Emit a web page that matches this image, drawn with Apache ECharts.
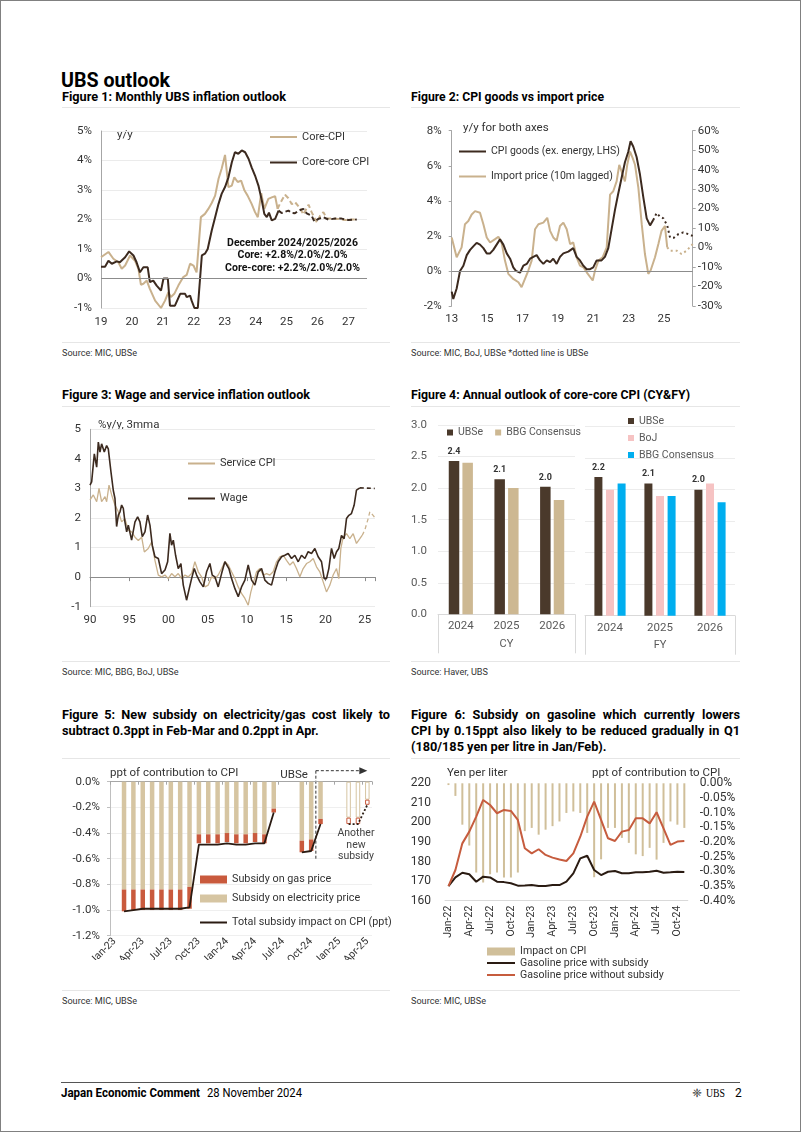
<!DOCTYPE html>
<html><head><meta charset="utf-8">
<script src="https://cdn.jsdelivr.net/npm/echarts@6/dist/echarts.min.js"></script>
<style>
html,body{margin:0;padding:0;background:#fff;}
body{width:802px;height:1134px;position:relative;overflow:hidden;font-family:Roboto,"Liberation Sans",sans-serif;color:#000;}
.frame{position:absolute;left:0;top:0;width:799px;height:1130px;border:1px solid #808080;}
.t{position:absolute;white-space:nowrap;transform-origin:0 50%;line-height:1;}
.rule{position:absolute;height:1px;background:#e6e6e6;}
.chart{position:absolute;}
</style></head><body>
<div class="frame"></div>
<script>
// ======================= DATA =======================
// Figure 1: monthly inflation outlook, [year, % y/y]
const coreCpiActual = [[2019.00,0.72],[2019.24,0.90],[2019.40,0.67],[2019.56,0.55],[2019.67,0.33],[2019.78,0.44],[2019.94,0.78],[2020.10,0.60],[2020.21,0.33],[2020.29,-0.21],[2020.37,-0.18],[2020.48,-0.07],[2020.58,-0.35],[2020.75,-0.75],[2020.94,-1.00],[2021.07,-0.75],[2021.18,-0.46],[2021.26,-0.63],[2021.37,-0.52],[2021.50,-0.24],[2021.66,0.05],[2021.77,0.12],[2021.88,0.50],[2021.99,0.44],[2022.09,0.21],[2022.23,2.08],[2022.36,2.19],[2022.47,2.36],[2022.58,2.56],[2022.69,2.81],[2022.80,3.38],[2022.90,3.72],[2023.01,4.19],[2023.12,3.10],[2023.23,3.15],[2023.31,3.43],[2023.42,3.27],[2023.53,3.32],[2023.64,2.98],[2023.74,2.81],[2023.87,2.53],[2023.98,2.25],[2024.07,2.08],[2024.18,2.89],[2024.28,2.36],[2024.41,2.70],[2024.54,2.76],[2024.63,2.79],[2024.71,2.36]];
const coreCpiForecast = [[2024.71,2.36],[2024.79,2.55],[2024.95,2.84],[2025.06,2.72],[2025.17,2.52],[2025.27,2.59],[2025.44,2.38],[2025.54,2.17],[2025.71,2.50],[2025.81,2.25],[2025.98,1.90],[2026.08,2.12],[2026.19,2.25],[2026.30,2.03],[2026.46,2.03],[2026.68,2.02],[2026.89,1.98],[2027.11,2.00],[2027.27,2.00]];
const coreCoreActual = [[2019.00,0.40],[2019.13,0.40],[2019.24,0.60],[2019.35,0.50],[2019.51,0.58],[2019.61,0.55],[2019.78,0.72],[2019.91,0.92],[2020.05,0.78],[2020.15,0.55],[2020.26,0.21],[2020.37,0.38],[2020.51,0.38],[2020.58,-0.12],[2020.69,-0.07],[2020.80,-0.24],[2020.94,-0.41],[2021.02,0.00],[2021.16,0.00],[2021.23,-0.92],[2021.39,-0.92],[2021.56,-0.52],[2021.72,-0.52],[2021.77,-0.63],[2021.88,-0.58],[2021.93,-0.75],[2022.02,-1.00],[2022.13,-1.00],[2022.26,0.78],[2022.36,0.84],[2022.45,1.00],[2022.58,1.63],[2022.69,2.08],[2022.80,2.53],[2022.90,2.87],[2023.01,3.10],[2023.12,3.43],[2023.23,3.94],[2023.33,4.28],[2023.44,4.23],[2023.55,4.34],[2023.66,4.28],[2023.77,4.06],[2023.87,3.77],[2023.98,3.49],[2024.09,3.15],[2024.20,2.64],[2024.28,2.19],[2024.36,2.08],[2024.43,2.23],[2024.52,1.97],[2024.63,2.02],[2024.74,2.30]];
const coreCoreForecast = [[2024.74,2.30],[2024.84,2.22],[2024.95,2.26],[2025.06,2.30],[2025.17,2.22],[2025.27,2.21],[2025.38,2.30],[2025.54,2.36],[2025.65,2.21],[2025.81,2.13],[2025.90,1.93],[2026.03,2.02],[2026.19,2.08],[2026.35,2.00],[2026.57,2.03],[2026.78,2.03],[2027.00,1.98],[2027.27,2.00]];

// Figure 2: CPI goods (LHS, %) vs import price (RHS, %, 10m lagged), [year, value]
const cpiGoodsActual = [[2013.00,-1.18],[2013.09,-1.60],[2013.28,-1.00],[2013.47,0.00],[2013.66,0.30],[2013.85,0.90],[2014.04,1.20],[2014.22,1.40],[2014.41,1.60],[2014.60,1.50],[2014.79,1.30],[2014.98,1.00],[2015.17,1.00],[2015.35,1.20],[2015.54,1.50],[2015.73,1.80],[2015.82,1.85],[2015.92,1.50],[2016.11,1.00],[2016.30,0.70],[2016.48,0.20],[2016.63,0.00],[2016.86,-0.10],[2017.05,0.30],[2017.24,0.40],[2017.43,0.70],[2017.80,0.90],[2017.99,0.60],[2018.18,0.40],[2018.37,0.60],[2018.56,0.50],[2018.74,0.70],[2018.93,0.40],[2019.12,0.80],[2019.31,1.00],[2019.59,1.10],[2019.87,1.30],[2020.06,0.80],[2020.25,0.60],[2020.44,0.30],[2020.63,0.10],[2020.82,0.10],[2021.00,0.20],[2021.19,0.60],[2021.47,0.60],[2021.66,0.80],[2021.85,1.30],[2022.04,2.40],[2022.23,3.50],[2022.41,4.40],[2022.60,5.30],[2022.79,6.20],[2022.98,6.80],[2023.11,7.40],[2023.26,7.10],[2023.45,6.50],[2023.64,5.50],[2023.83,4.20],[2024.02,3.00],[2024.21,2.60],[2024.39,2.90]];
const cpiGoodsForecast = [[2024.39,2.90],[2024.58,3.30],[2024.77,3.10],[2024.96,3.00],[2025.18,2.60],[2025.34,1.90],[2025.56,1.90],[2025.81,2.10],[2026.09,2.20],[2026.37,2.10],[2026.62,2.00]];
const importPriceActual = [[2013.00,5.2],[2013.28,-5.0],[2013.56,0.1],[2013.75,12.0],[2013.94,13.6],[2014.13,17.0],[2014.32,18.7],[2014.60,17.9],[2014.79,12.0],[2014.98,5.2],[2015.17,2.6],[2015.45,4.3],[2015.64,5.5],[2015.82,2.6],[2016.01,-6.7],[2016.20,-13.5],[2016.48,-16.1],[2016.77,-17.8],[2016.95,-20.3],[2017.14,-16.1],[2017.33,-11.8],[2017.52,-6.7],[2017.71,9.4],[2017.90,12.0],[2018.18,12.8],[2018.40,15.3],[2018.56,8.6],[2018.74,5.2],[2018.93,3.5],[2019.12,11.1],[2019.31,12.8],[2019.50,9.4],[2019.69,1.8],[2019.87,2.6],[2020.06,-5.0],[2020.25,-9.3],[2020.44,-10.1],[2020.63,-12.7],[2020.97,-16.9],[2021.10,-11.8],[2021.29,-6.7],[2021.53,-5.0],[2021.76,0.1],[2021.95,27.2],[2022.13,28.9],[2022.32,34.0],[2022.47,42.5],[2022.60,39.1],[2022.79,34.0],[2022.92,42.5],[2023.08,49.3],[2023.23,45.9],[2023.36,42.5],[2023.55,30.6],[2023.74,12.0],[2023.92,-3.3],[2024.11,-13.5],[2024.24,-11.8],[2024.49,-5.0],[2024.68,1.8],[2024.86,8.6],[2025.05,11.1],[2025.18,0.1]];
const importPriceForecast = [[2025.18,0.1],[2025.34,-1.6],[2025.71,-1.6],[2025.99,-3.3],[2026.28,-1.6],[2026.62,1.8]];

// Figure 3: wage and service CPI, %y/y 3mma, [year, value]
const wageActual = [[1990.00,3.11],[1990.21,3.22],[1990.55,4.17],[1990.85,3.72],[1991.06,4.57],[1991.27,4.23],[1991.48,4.51],[1991.82,4.23],[1992.12,4.45],[1992.33,4.34],[1992.67,3.56],[1992.97,2.93],[1993.18,2.66],[1993.39,1.71],[1993.61,2.10],[1993.82,2.21],[1994.03,2.44],[1994.24,2.33],[1994.45,1.87],[1994.67,1.53],[1994.88,1.76],[1995.30,1.25],[1995.73,1.87],[1996.07,2.04],[1996.36,1.87],[1996.66,1.37],[1997.00,1.53],[1997.34,2.10],[1997.64,1.75],[1997.93,1.08],[1998.27,0.69],[1998.70,0.63],[1999.12,0.12],[1999.55,0.24],[1999.89,0.52],[2000.18,1.48],[2000.39,1.08],[2000.61,1.25],[2000.90,0.74],[2001.24,0.29],[2001.58,0.46],[2001.88,-0.27],[2002.30,-0.78],[2002.64,-0.39],[2002.94,-0.05],[2003.28,0.29],[2003.58,0.07],[2004.00,-0.16],[2004.43,-0.33],[2004.85,0.18],[2005.27,0.46],[2005.57,0.07],[2005.91,0.01],[2006.33,-0.33],[2006.76,0.12],[2007.18,0.52],[2007.69,0.29],[2008.03,-0.05],[2008.46,-0.39],[2008.88,-0.66],[2009.30,-0.33],[2009.73,-0.10],[2010.15,0.41],[2010.58,-0.10],[2011.00,-0.27],[2011.43,0.18],[2011.85,0.29],[2012.27,-0.10],[2012.70,-0.21],[2013.12,-0.27],[2013.55,0.18],[2013.97,0.52],[2014.40,0.69],[2014.82,0.74],[2015.24,0.80],[2015.67,0.63],[2016.09,0.74],[2016.52,0.52],[2016.94,0.74],[2017.37,0.63],[2017.79,0.86],[2018.21,0.80],[2018.64,0.97],[2019.06,0.69],[2019.49,0.52],[2019.83,-0.05],[2020.12,-0.05],[2020.42,0.29],[2020.76,0.97],[2021.10,0.63],[2021.40,0.86],[2021.69,0.97],[2022.03,1.41],[2022.37,1.30],[2022.67,1.98],[2022.97,2.09],[2023.30,2.15],[2023.64,2.43],[2023.94,2.94],[2024.37,3.02]];
const wageForecast = [[2024.37,3.02],[2026.27,3.00]];
const serviceActual = [[1990.00,2.61],[1990.42,2.78],[1990.85,2.55],[1991.15,3.00],[1991.48,2.55],[1991.91,2.72],[1992.12,2.55],[1992.42,3.11],[1992.76,2.78],[1993.18,2.44],[1993.61,2.21],[1994.03,1.87],[1994.45,1.98],[1994.88,1.59],[1995.30,1.53],[1995.73,1.35],[1996.15,1.24],[1996.58,1.35],[1996.92,0.85],[1997.42,0.97],[1997.85,1.19],[1998.27,0.57],[1998.70,0.07],[1999.12,0.01],[1999.55,0.07],[1999.97,-0.05],[2000.39,0.12],[2000.82,0.01],[2001.24,0.12],[2001.67,-0.05],[2002.09,0.07],[2002.52,0.01],[2002.94,0.12],[2003.36,0.52],[2003.79,0.18],[2004.21,0.01],[2004.64,-0.33],[2005.06,-0.27],[2005.49,0.01],[2005.91,-0.05],[2006.33,0.07],[2006.76,0.29],[2007.18,0.52],[2007.61,0.41],[2008.03,0.18],[2008.46,-0.05],[2008.88,-0.33],[2009.30,-0.55],[2009.73,-0.72],[2010.15,-0.95],[2010.49,-0.50],[2010.79,-0.21],[2011.21,0.18],[2011.64,0.29],[2012.06,0.07],[2012.49,0.12],[2012.91,0.07],[2013.33,0.18],[2013.76,0.52],[2014.18,0.69],[2014.61,0.74],[2015.03,0.57],[2015.46,0.41],[2015.88,0.52],[2016.30,0.29],[2016.73,0.01],[2017.15,0.29],[2017.58,0.46],[2018.00,0.52],[2018.43,0.63],[2018.85,0.35],[2019.27,0.18],[2019.70,-0.16],[2020.12,-0.50],[2020.55,-0.27],[2020.97,0.07],[2021.40,0.29],[2021.69,-0.05],[2021.95,0.97],[2022.25,1.36],[2022.67,1.47],[2023.09,1.30],[2023.52,1.47],[2023.94,1.14],[2024.37,1.30],[2024.66,1.41]];
const serviceForecast = [[2024.66,1.41],[2025.00,1.59],[2025.43,1.98],[2025.64,2.21],[2026.06,2.09],[2026.36,1.98]];

// Figure 4: annual outlook of core-core CPI
const annualYears = ['2024','2025','2026'];
const cyUBSe = [2.43,2.14,2.02];
const cyBBG = [2.40,2.00,1.81];
const fyUBSe = [2.20,2.10,2.00];
const fyBoJ = [2.00,1.90,2.10];
const fyBBG = [2.10,1.90,1.80];

// Figure 5: electricity/gas subsidy, ppt contribution to CPI
const subsidyMonths = ['Jan-23','Feb-23','Mar-23','Apr-23','May-23','Jun-23','Jul-23','Aug-23','Sep-23','Oct-23','Nov-23','Dec-23','Jan-24','Feb-24','Mar-24','Apr-24','May-24','Jun-24','Jul-24','Aug-24','Sep-24','Oct-24','Nov-24','Dec-24','Jan-25','Feb-25','Mar-25','Apr-25'];
const electricitySubsidy = [null,-0.84,-0.84,-0.84,-0.84,-0.84,-0.84,-0.84,-0.82,-0.41,-0.41,-0.41,-0.40,-0.41,-0.41,-0.40,-0.41,-0.21,null,null,-0.46,-0.45,-0.29,null,null,-0.28,-0.28,-0.14];
const gasSubsidy = [null,-0.17,-0.16,-0.16,-0.16,-0.16,-0.16,-0.16,-0.17,-0.07,-0.07,-0.07,-0.07,-0.07,-0.07,-0.07,-0.07,-0.03,null,null,-0.09,-0.09,-0.04,null,null,-0.05,-0.05,-0.04];
const totalImpact = [null,-1.01,-1.00,-0.99,-0.99,-0.99,-0.99,-0.99,-0.98,-0.49,-0.49,-0.49,-0.48,-0.49,-0.49,-0.48,-0.48,-0.24,null,null,-0.55,-0.54,-0.33,null,null,null,null,null];
const totalImpactForecast = [null,null,null,null,null,null,null,null,null,null,null,null,null,null,null,null,null,null,null,null,null,null,null,null,null,-0.33,-0.33,-0.18];
const newSubsidyMonths = ['Feb-25','Mar-25','Apr-25'];

// Figure 6: gasoline subsidy
const gasolineMonths = ['Jan-22','Feb-22','Mar-22','Apr-22','May-22','Jun-22','Jul-22','Aug-22','Sep-22','Oct-22','Nov-22','Dec-22','Jan-23','Feb-23','Mar-23','Apr-23','May-23','Jun-23','Jul-23','Aug-23','Sep-23','Oct-23','Nov-23','Dec-23','Jan-24','Feb-24','Mar-24','Apr-24','May-24','Jun-24','Jul-24','Aug-24','Sep-24','Oct-24','Nov-24'];
const cpiImpact = [-0.006,-0.043,-0.141,-0.212,-0.304,-0.338,-0.310,-0.304,-0.321,-0.321,-0.304,-0.163,-0.152,-0.175,-0.158,-0.146,-0.130,-0.101,-0.096,-0.101,-0.169,-0.320,-0.259,-0.152,-0.152,-0.186,-0.203,-0.242,-0.248,-0.220,-0.260,-0.203,-0.130,-0.141,-0.152];
const priceWithSubsidy = [167.5,171.9,174.3,173.5,169.7,172.3,171.9,169.7,169.5,168.9,167.7,167.8,168.0,167.5,167.5,168.0,168.0,169.7,174.0,181.6,183.0,175.7,173.1,174.8,175.2,174.0,174.0,174.5,174.5,174.8,175.3,174.3,174.5,174.8,174.7];
const priceWithoutSubsidy = [167.5,175.7,189.3,195.3,203.0,211.5,208.9,204.7,206.4,205.9,201.3,186.8,184.2,186.3,183.4,182.0,181.1,180.3,184.2,192.7,203.0,210.6,201.3,191.9,190.5,195.3,196.1,202.1,202.1,199.5,205.2,197.0,188.5,190.2,190.5];

// ======================= STYLE / LAYOUT =======================
const FONT = 'Roboto, "Liberation Sans", sans-serif';
const C = {tan:'#C9B18D', dark:'#3C2A1F', grid:'#ebebeb', axis:'#a6a6a6', label:'#333333',
  ubs:'#4A392B', bbgTan:'#CDB892', boj:'#F6C3C3', bbgBlue:'#00AEEF',
  elec:'#D6C5A2', gas:'#C95A3D', total:'#2A1B12', red:'#C65C3E', impact:'#D0BF9A'};

function txt(s, x, cy, size, weight, w, family, color){
  const e = document.createElement('div'); e.className = 't'; e.textContent = s;
  e.style.left = x + 'px'; e.style.top = (cy - size/2) + 'px';
  e.style.fontSize = size + 'px'; e.style.fontWeight = weight || 400;
  if (family) e.style.fontFamily = family;
  if (color) e.style.color = color;
  document.body.appendChild(e);
  if (w) { const nat = e.getBoundingClientRect().width; e.style.transform = 'scaleX(' + (w/nat) + ')'; }
  return e;
}
function block(lines, x, cy0, lh, size, w, sMax){
  const probe = txt(lines[0], x, cy0, size, 700);
  const nat = probe.getBoundingClientRect().width; probe.remove();
  const s = Math.min(sMax, w/nat);
  lines.forEach((ln, i) => {
    const e = txt(ln, x, cy0 + i*lh, size, 700);
    if (i < lines.length - 1) { e.style.width = (w/s) + 'px'; e.style.textAlign = 'justify'; e.style.textAlignLast = 'justify'; e.style.whiteSpace = 'nowrap'; }
    e.style.transform = 'scaleX(' + s + ')';
  });
}
function rule(x, y, w, color, h){ const e = document.createElement('div'); e.className='rule'; e.style.left=x+'px'; e.style.top=y+'px'; e.style.width=w+'px'; if(color) e.style.background=color; if(h) e.style.height=h+'px'; document.body.appendChild(e); }
function mk(left, top, w, h){ const d = document.createElement('div'); d.className='chart'; d.style.left=left+'px'; d.style.top=top+'px'; d.style.width=w+'px'; d.style.height=h+'px'; document.body.appendChild(d); return echarts.init(d, null, {renderer:'canvas'}); }

// ---- page text ----
txt('UBS outlook', 61, 79.5, 20, 700, 109);
const h1 = txt('Figure 1: Monthly UBS inflation outlook', 62, 97, 12.5, 700, 224);
const sH = parseFloat(h1.style.transform.slice(7));
txt('Figure 2: CPI goods vs import price', 411, 97, 12.5, 700, 193);
txt('Figure 3: Wage and service inflation outlook', 62, 395, 12.5, 700, 248);
txt('Figure 4: Annual outlook of core-core CPI (CY&FY)', 411, 395, 12.5, 700, 279);
block(['Figure 5: New subsidy on electricity/gas cost likely to','subtract 0.3ppt in Feb-Mar and 0.2ppt in Apr.'], 62, 715, 16, 12.5, 328, sH);
block(['Figure 6: Subsidy on gasoline which currently lowers','CPI by 0.15ppt also likely to be reduced gradually in Q1','(180/185 yen per litre in Jan/Feb).'], 411, 715, 16, 12.5, 329, sH);
[107, 406, 758, 342, 661, 990].forEach(y => { rule(62, y, 328); rule(411, y, 329); });
const s1 = txt('Source: MIC, UBSe', 62, 353, 9, 400, 75, null, '#333');
const sS = parseFloat(s1.style.transform.slice(7));
function src(s, x, y){ const e = txt(s, x, y, 9, 400, null, null, '#333'); e.style.transform = 'scaleX(' + sS + ')'; }
src('Source: MIC, BoJ, UBSe *dotted line is UBSe', 411, 353);
src('Source: MIC, BBG, BoJ, UBSe', 62, 672);
src('Source: Haver, UBS', 411, 672);
src('Source: MIC, UBSe', 62, 1001);
src('Source: MIC, UBSe', 411, 1001);
rule(61, 1082, 679, '#555', 1);
txt('Japan Economic Comment', 61, 1093, 12.5, 700, 139);
txt('28 November 2024', 207, 1093, 12.5, 400, 95);
txt('\u2748', 692, 1093, 12, 400, null, '"DejaVu Sans"', '#333');
txt('UBS', 706, 1093, 12, 400, 19, '"Liberation Serif", "DejaVu Serif", serif');
txt('2', 735, 1093, 12, 400);

// ---- common helpers ----
const lbl = (extra) => Object.assign({color:C.label, fontSize:11.5, fontFamily:FONT}, extra || {});
const noEmph = {emphasis:{disabled:true}, silent:true, animation:false};
const line = (name, data, color, type, width, extra) => Object.assign({name, type:'line', data, showSymbol:false, symbol:'none', lineStyle:{color, width:width||2, type:type||'solid'}, itemStyle:{color}}, noEmph, extra||{});
const zeroMark = {silent:true, symbol:'none', label:{show:false}, lineStyle:{color:'#8c8c8c', width:1, type:'solid'}, data:[{yAxis:0}], animation:false};
const lg = (names, left, top, extra) => Object.assign({data:names, left, top, padding:0, icon:'rect', itemWidth:27, itemHeight:2, selectedMode:false, textStyle:{fontSize:11, color:'#333', fontFamily:FONT}}, extra || {});
const gtext = (text, x, y, o) => ({type:'text', x, y, silent:true, style:Object.assign({text, fill:'#333', font:'11.5px ' + FONT, align:'left', textAlign:'left', verticalAlign:'middle', textVerticalAlign:'middle'}, o||{})});

// ======================= FIGURE 1 =======================
const c1 = mk(55, 112, 340, 225);
c1.setOption({
  animation:false, textStyle:{fontFamily:FONT},
  grid:{left:46, right:28, top:19, bottom:29, containLabel:false, outerBoundsMode:'none'},
  xAxis:{type:'value', min:2019, max:2027.6, interval:1, axisLine:{show:false, onZero:false}, axisTick:{show:false}, splitLine:{show:false},
    axisLabel:lbl({margin:8, formatter:v => Number.isInteger(v) ? String(v).slice(2) : ''})},
  yAxis:{type:'value', min:-1, max:5, interval:1, axisLine:{show:true, lineStyle:{color:C.axis}}, axisTick:{show:false},
    splitLine:{lineStyle:{color:C.grid}}, axisLabel:lbl({margin:9, formatter:'{value}%'})},
  legend:[lg(['Core-CPI'], 215, 19.5), lg(['Core-core CPI'], 215, 45)],
  graphic:[gtext('y/y', 62, 23),
    gtext('December 2024/2025/2026\nCore: +2.8%/2.0%/2.0%\nCore-core: +2.2%/2.0%/2.0%', 237.5, 125,
      {align:'center', textAlign:'center', verticalAlign:'top', textVerticalAlign:'top', font:'bold 10.5px ' + FONT, lineHeight:12.5, fill:'#111'})],
  series:[
    line('Core-CPI', coreCpiActual, C.tan, 'solid', 2, {markLine:zeroMark}),
    line('Core-CPI forecast', coreCpiForecast, C.tan, [5,3], 2),
    line('Core-core CPI', coreCoreActual, C.dark, 'solid', 2),
    line('Core-core CPI forecast', coreCoreForecast, C.dark, [5,3], 2)
  ]
});

// ======================= FIGURE 2 =======================
const base2 = 2013;
const off2 = arr => arr.map(p => [p[0] - base2, p[1]]);
const c2 = mk(405, 112, 345, 225);
c2.setOption({
  animation:false, textStyle:{fontFamily:FONT},
  grid:{left:46.7, right:57.3, top:18.7, bottom:31, containLabel:false, outerBoundsMode:'none'},
  xAxis:{type:'value', min:0, max:13.62, interval:2, axisLine:{show:false, onZero:false}, axisTick:{show:false}, splitLine:{show:false},
    axisLabel:lbl({margin:7, formatter:v => (Number.isInteger(v) && v % 2 === 0) ? String(base2 + v).slice(2) : ''})},
  yAxis:[
    {type:'value', min:-2, max:8, interval:2, axisLine:{show:true, lineStyle:{color:C.axis}}, axisTick:{show:true, length:3, lineStyle:{color:C.axis}},
      splitLine:{show:false}, axisLabel:lbl({margin:10, formatter:'{value}%'})},
    {type:'value', min:-30, max:60, interval:10, position:'right', axisLine:{show:true, lineStyle:{color:C.axis}}, axisTick:{show:true, length:3, lineStyle:{color:C.axis}},
      splitLine:{show:false}, axisLabel:lbl({margin:5, formatter:'{value}%'})}
  ],
  legend:[lg(['CPI goods (ex. energy, LHS)'], 54, 34, {textStyle:{fontSize:10.5, color:'#333', fontFamily:FONT}}),
          lg(['Import price (10m lagged)'], 54, 59, {textStyle:{fontSize:10.5, color:'#333', fontFamily:FONT}})],
  graphic:[gtext('y/y for both axes', 58, 16.5)],
  series:[
    line('Import price (10m lagged)', off2(importPriceActual), C.tan, 'solid', 2, {yAxisIndex:1}),
    line('Import price forecast', off2(importPriceForecast), C.tan, [2,3], 2, {yAxisIndex:1}),
    line('CPI goods (ex. energy, LHS)', off2(cpiGoodsActual), C.dark, 'solid', 2, {yAxisIndex:0, markLine:zeroMark}),
    line('CPI goods forecast', off2(cpiGoodsForecast), C.dark, [2,3], 2, {yAxisIndex:0})
  ]
});

// ======================= FIGURE 3 =======================
const c3 = mk(55, 405, 340, 230);
c3.setOption({
  animation:false, textStyle:{fontFamily:FONT},
  grid:{left:35, right:20, top:24.3, bottom:28.3, containLabel:false, outerBoundsMode:'none'},
  xAxis:[
    {type:'value', min:1990, max:2026.3, interval:5, axisLine:{show:false, onZero:false}, axisTick:{show:false}, splitLine:{show:false},
      axisLabel:lbl({margin:7, formatter:v => (Number.isInteger(v) && v % 5 === 0) ? String(v).slice(2) : ''})},
    {type:'value', min:1990, max:2026.3, interval:5, position:'bottom', axisLine:{show:true, onZero:true, lineStyle:{color:'#8c8c8c'}},
      axisTick:{show:true, length:4, lineStyle:{color:'#8c8c8c'}}, axisLabel:{show:false}, splitLine:{show:false}}
  ],
  yAxis:{type:'value', min:-1, max:5, interval:1, axisLine:{show:true, lineStyle:{color:C.axis}}, axisTick:{show:false},
    splitLine:{lineStyle:{color:C.grid}}, axisLabel:lbl({margin:9})},
  legend:[lg(['Service CPI'], 133, 53), lg(['Wage'], 133, 88)],
  graphic:[gtext('%y/y, 3mma', 43, 20)],
  series:[
    line('Service CPI', serviceActual, C.tan, 'solid', 1.3),
    line('Service CPI forecast', serviceForecast, C.tan, [4,3], 1.3),
    line('Wage', wageActual, C.dark, 'solid', 1.6),
    line('Wage forecast', wageForecast, C.dark, [4,3], 1.6)
  ]
});

// ======================= FIGURE 4 =======================
const c4 = mk(405, 405, 345, 260);
const barLbl = {show:true, position:'top', distance:5, formatter:p => p.value.toFixed(1), fontSize:9, fontWeight:'bold', color:'#333', fontFamily:FONT};
const catAxis = (gi) => ({type:'category', gridIndex:gi, data:annualYears, position:'bottom', axisLine:{show:true, onZero:false, lineStyle:{color:'#d9d9d9'}}, axisTick:{show:false}, axisLabel:lbl({color:'#595959', margin:6})});
const grpAxis = (gi, name) => ({type:'category', gridIndex:gi, data:[name], position:'bottom', axisLine:{show:false, onZero:false}, axisTick:{show:true, length:39, lineStyle:{color:'#d9d9d9'}}, axisLabel:lbl({color:'#595959', fontSize:11, margin:24})});
const lg4 = {padding:0, icon:'rect', itemWidth:6, itemHeight:6, selectedMode:false, textStyle:{fontSize:10.5, color:'#595959', fontFamily:FONT}};
c4.setOption({
  animation:false, textStyle:{fontFamily:FONT},
  grid:[{left:33, right:175, top:20, bottom:50.7, containLabel:false, outerBoundsMode:'none'},
        {left:180, right:15, top:21.7, bottom:49.3, containLabel:false, outerBoundsMode:'none'}],
  xAxis:[catAxis(0), grpAxis(0,'CY'), catAxis(1), grpAxis(1,'FY')],
  yAxis:[
    {type:'value', gridIndex:0, min:0, max:3, interval:0.5, axisLine:{show:false}, axisTick:{show:false}, splitLine:{lineStyle:{color:'#ececec'}},
      axisLabel:lbl({color:'#595959', margin:11, formatter:v => v.toFixed(1)})},
    {type:'value', gridIndex:1, min:0, max:3, interval:0.5, axisLine:{show:false}, axisTick:{show:false}, splitLine:{lineStyle:{color:'#ececec'}}, axisLabel:{show:false}}
  ],
  legend:[
    Object.assign({data:['UBSe','BBG Consensus'], left:42, top:22, itemGap:12}, lg4),
    Object.assign({data:['UBSe (FY)','BoJ','BBG Consensus (FY)'], orient:'vertical', left:223, top:10.5, itemGap:6, formatter:n => n.replace(' (FY)','')}, lg4)
  ],
  series:[
    Object.assign({name:'UBSe', type:'bar', xAxisIndex:0, yAxisIndex:0, data:cyUBSe, barWidth:10.5, barGap:'30%', itemStyle:{color:C.ubs}, label:barLbl}, noEmph),
    Object.assign({name:'BBG Consensus', type:'bar', xAxisIndex:0, yAxisIndex:0, data:cyBBG, barWidth:10.5, barGap:'30%', itemStyle:{color:C.bbgTan}}, noEmph),
    Object.assign({name:'UBSe (FY)', type:'bar', xAxisIndex:2, yAxisIndex:1, data:fyUBSe, barWidth:8, barGap:'45%', itemStyle:{color:C.ubs}, label:barLbl}, noEmph),
    Object.assign({name:'BoJ', type:'bar', xAxisIndex:2, yAxisIndex:1, data:fyBoJ, barWidth:8, barGap:'45%', itemStyle:{color:C.boj}}, noEmph),
    Object.assign({name:'BBG Consensus (FY)', type:'bar', xAxisIndex:2, yAxisIndex:1, data:fyBBG, barWidth:8, barGap:'45%', itemStyle:{color:C.bbgBlue}}, noEmph)
  ]
});

// ======================= FIGURE 5 =======================
const c5 = mk(55, 760, 345, 200);
const hollow = (vals, col) => vals.map((v, i) => (v != null && newSubsidyMonths.includes(subsidyMonths[i])) ? {value:v, itemStyle:{color:'#ffffff', borderColor:col, borderWidth:1}} : v);
const lt5 = {fontSize:10.8, color:'#333', fontFamily:FONT};
c5.setOption({
  animation:false, textStyle:{fontFamily:FONT},
  grid:{left:55, right:28, top:21.7, bottom:24.3, containLabel:false, outerBoundsMode:'none'},
  xAxis:[
    {type:'category', data:subsidyMonths, position:'bottom', axisLine:{show:false, onZero:false}, axisTick:{show:false},
      axisLabel:lbl({fontSize:10.5, rotate:45, interval:2, margin:4, hideOverlap:false})},
    {type:'category', data:subsidyMonths, position:'top', axisLine:{show:true, lineStyle:{color:'#a6a6a6'}},
      axisTick:{show:true, inside:true, interval:2, length:3, lineStyle:{color:'#a6a6a6'}}, axisLabel:{show:false}}
  ],
  yAxis:{type:'value', min:-1.2, max:0, interval:0.2, axisLine:{show:true, lineStyle:{color:'#bfbfbf'}}, axisTick:{show:true, length:3, lineStyle:{color:'#bfbfbf'}},
    splitLine:{lineStyle:{color:'#efefef'}}, axisLabel:lbl({margin:10, formatter:v => v.toFixed(1) + '%'})},
  legend:[
    {data:['Subsidy on gas price','Subsidy on electricity price'], orient:'vertical', left:145, top:114, padding:0, icon:'rect', itemWidth:27, itemHeight:8, itemGap:8, selectedMode:false, textStyle:lt5},
    lg(['Total subsidy impact on CPI (ppt)'], 145, 157, {textStyle:lt5})
  ],
  series:[
    Object.assign({name:'Subsidy on electricity price', type:'bar', stack:'s', data:hollow(electricitySubsidy, C.elec), barWidth:4.5, itemStyle:{color:C.elec}}, noEmph),
    Object.assign({name:'Subsidy on gas price', type:'bar', stack:'s', data:hollow(gasSubsidy, C.gas), barWidth:4.5, itemStyle:{color:C.gas}}, noEmph),
    line('Total subsidy impact on CPI (ppt)', totalImpact, C.total, 'solid', 1.8),
    line('Total subsidy forecast', totalImpactForecast, C.total, [2,2], 1.8)
  ]
});
(function(){
  const xa = c5.convertToPixel({xAxisIndex:0}, 'Oct-24'), xb = c5.convertToPixel({xAxisIndex:0}, 'Nov-24');
  const xv = (xa + xb) / 2, xe = c5.convertToPixel({xAxisIndex:0}, 'Apr-25');
  const y0 = c5.convertToPixel({yAxisIndex:0}, 0), y6 = c5.convertToPixel({yAxisIndex:0}, -0.6);
  const xm = c5.convertToPixel({xAxisIndex:0}, 'Mar-25');
  const yt = y0 - 11;
  c5.setOption({graphic:[
    {type:'line', silent:true, shape:{x1:xv, y1:yt, x2:xv, y2:y6}, style:{stroke:'#333', lineWidth:1, lineDash:[3,2]}},
    {type:'line', silent:true, shape:{x1:xv, y1:yt, x2:xe - 6, y2:yt}, style:{stroke:'#333', lineWidth:1, lineDash:[3,2]}},
    {type:'polygon', silent:true, shape:{points:[[xe, yt], [xe - 8, yt - 3.5], [xe - 8, yt + 3.5]]}, style:{fill:'#333'}},
    gtext('UBSe', xv - 8, yt + 4, {align:'right', textAlign:'right'}),
    gtext('ppt of contribution to CPI', 55, 13),
    gtext('Another\nnew\nsubsidy', xm - 2, y0 + 46, {align:'center', textAlign:'center', verticalAlign:'top', textVerticalAlign:'top', font:'10.5px ' + FONT, lineHeight:11.5, fill:'#444'})
  ]});
})();

// ======================= FIGURE 6 =======================
const c6 = mk(405, 760, 345, 225);
const lt6 = {fontSize:10.6, color:'#333', fontFamily:FONT};
c6.setOption({
  animation:false, textStyle:{fontFamily:FONT},
  grid:{left:40, right:62.2, top:23.3, bottom:84.3, containLabel:false, outerBoundsMode:'none'},
  xAxis:{type:'category', data:gasolineMonths, axisLine:{show:true, onZero:false, lineStyle:{color:'#d9d9d9'}}, axisTick:{show:false},
    axisLabel:lbl({fontSize:10.5, rotate:90, interval:2, margin:5, hideOverlap:false})},
  yAxis:[
    {type:'value', min:160, max:220, interval:10, axisLine:{show:false}, axisTick:{show:false}, splitLine:{show:false}, axisLabel:lbl({fontSize:12, margin:14})},
    {type:'value', min:-0.4, max:0, interval:0.05, position:'right', axisLine:{show:false}, axisTick:{show:false}, splitLine:{show:false},
      axisLabel:lbl({fontSize:12, margin:12, formatter:v => v.toFixed(2) + '%'})}
  ],
  legend:[
    {data:['Impact on CPI'], left:82, top:186, padding:0, icon:'rect', itemWidth:28, itemHeight:8, selectedMode:false, textStyle:lt6},
    lg(['Gasoline price with subsidy','Gasoline price without subsidy'], 82, 197, {orient:'vertical', itemWidth:28, itemGap:0, textStyle:Object.assign({lineHeight:12}, lt6)})
  ],
  graphic:[gtext('Yen per liter', 42, 13), gtext('ppt of contribution to CPI', 187, 13)],
  series:[
    Object.assign({name:'Impact on CPI', type:'bar', yAxisIndex:1, data:cpiImpact, barWidth:2, itemStyle:{color:C.impact}}, noEmph),
    line('Gasoline price with subsidy', priceWithSubsidy, C.total, 'solid', 2, {yAxisIndex:0}),
    line('Gasoline price without subsidy', priceWithoutSubsidy, C.red, 'solid', 2, {yAxisIndex:0})
  ]
});
</script>
</body></html>
